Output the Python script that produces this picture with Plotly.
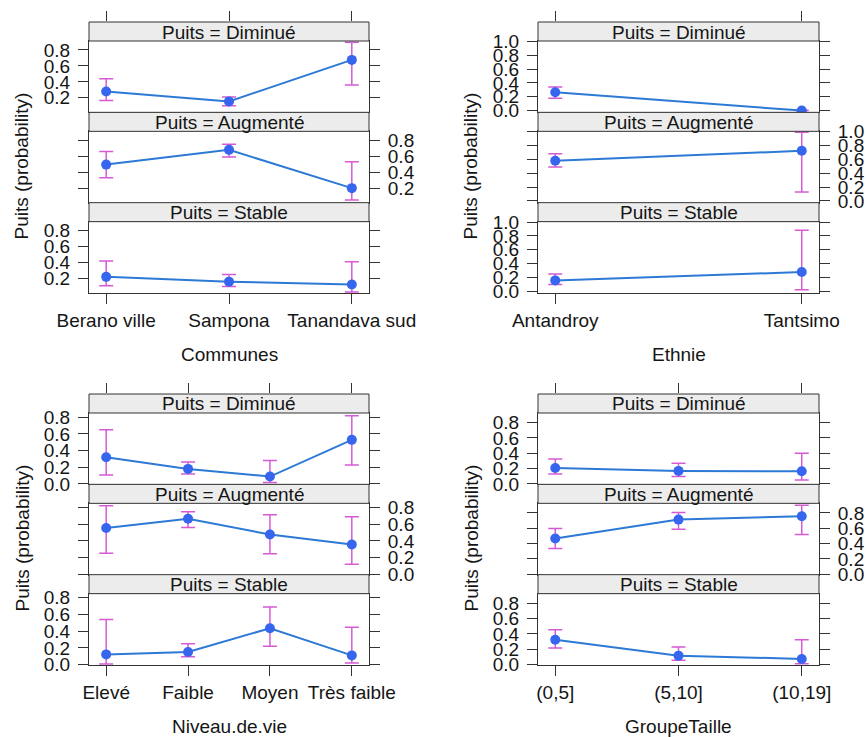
import plotly.graph_objects as go

# ---------------- data ----------------
levels = ["Diminué", "Augmenté", "Stable"]

communes = ["Berano ville", "Sampona", "Tanandava sud"]
com_dim = [0.28, 0.155, 0.675]
com_dim_lo = [0.165, 0.10, 0.36]
com_dim_hi = [0.44, 0.21, 0.895]
com_aug = [0.495, 0.68, 0.20]
com_aug_lo = [0.33, 0.59, 0.05]
com_aug_hi = [0.66, 0.75, 0.53]
com_sta = [0.22, 0.16, 0.125]
com_sta_lo = [0.11, 0.10, 0.03]
com_sta_hi = [0.42, 0.25, 0.41]

ethnie = ["Antandroy", "Tantsimo"]
eth_dim = [0.264, 0.0]
eth_dim_lo = [0.18, 0.0]
eth_dim_hi = [0.34, 0.006]
eth_aug = [0.58, 0.724]
eth_aug_lo = [0.49, 0.13]
eth_aug_hi = [0.68, 0.99]
eth_sta = [0.157, 0.277]
eth_sta_lo = [0.096, 0.02]
eth_sta_hi = [0.25, 0.88]

niveau = ["Elevé", "Faible", "Moyen", "Très faible"]
niv_dim = [0.32, 0.18, 0.088, 0.528]
niv_dim_lo = [0.108, 0.12, 0.016, 0.228]
niv_dim_hi = [0.648, 0.264, 0.28, 0.816]
niv_aug = [0.555, 0.665, 0.476, 0.357]
niv_aug_lo = [0.253, 0.56, 0.246, 0.12]
niv_aug_hi = [0.82, 0.75, 0.713, 0.69]
niv_sta = [0.122, 0.15, 0.435, 0.11]
niv_sta_lo = [0.008, 0.094, 0.22, 0.02]
niv_sta_hi = [0.54, 0.25, 0.69, 0.447]

groupe = ["(0,5]", "(5,10]", "(10,19]"]
grp_dim = [0.207, 0.17, 0.165]
grp_dim_lo = [0.13, 0.096, 0.05]
grp_dim_hi = [0.325, 0.27, 0.40]
grp_aug = [0.466, 0.713, 0.757]
grp_aug_lo = [0.335, 0.587, 0.52]
grp_aug_hi = [0.596, 0.805, 0.90]
grp_sta = [0.325, 0.117, 0.074]
grp_sta_lo = [0.216, 0.056, 0.01]
grp_sta_hi = [0.455, 0.23, 0.325]

y_ticks = [0.0, 0.2, 0.4, 0.6, 0.8, 1.0]

# ---------------- layout / style ----------------
W, H = 866, 737
FONT = "Liberation Sans, Arial, sans-serif"
TXT = "#151515"
FRAME = "#333333"
LINE_C = "#2c7ad6"
MARK_C = "#3766ee"
CI_C = "#d65ad6"
STRIP_FILL = "#ececec"
STRIP_H = 19
PANEL_H = 71.33

groups = [
    dict(cats=communes, fits=[com_dim, com_aug, com_sta],
         los=[com_dim_lo, com_aug_lo, com_sta_lo], his=[com_dim_hi, com_aug_hi, com_sta_hi],
         xtitle="Communes", left=89, right=369, top=22, yrange=[0.018, 0.912]),
    dict(cats=ethnie, fits=[eth_dim, eth_aug, eth_sta],
         los=[eth_dim_lo, eth_aug_lo, eth_sta_lo], his=[eth_dim_hi, eth_aug_hi, eth_sta_hi],
         xtitle="Ethnie", left=538, right=819, top=22, yrange=[-0.025, 1.005]),
    dict(cats=niveau, fits=[niv_dim, niv_aug, niv_sta],
         los=[niv_dim_lo, niv_aug_lo, niv_sta_lo], his=[niv_dim_hi, niv_aug_hi, niv_sta_hi],
         xtitle="Niveau.de.vie", left=89, right=369, top=394, yrange=[-0.005, 0.85]),
    dict(cats=groupe, fits=[grp_dim, grp_aug, grp_sta],
         los=[grp_dim_lo, grp_aug_lo, grp_sta_lo], his=[grp_dim_hi, grp_aug_hi, grp_sta_hi],
         xtitle="GroupeTaille", left=538, right=819, top=394, yrange=[-0.005, 0.925]),
]

fig = go.Figure()
layout = {}
shapes = []
annotations = []
tick_font = dict(family=FONT, size=19, color=TXT)

k = 0
for gi, g in enumerate(groups):
    cats = g["cats"]
    n = len(cats)
    pad = 0.07 * (n - 1)
    xr = [-pad, n - 1 + pad]
    xd = [g["left"] / W, g["right"] / W]
    for j, lev in enumerate(levels):
        k += 1
        s_top = g["top"] + j * (STRIP_H + PANEL_H)
        p_top = s_top + STRIP_H
        p_bot = p_top + PANEL_H
        fit, lo, hi = g["fits"][j], g["los"][j], g["his"][j]
        fig.add_trace(go.Scatter(
            x=cats, y=fit, mode="lines+markers",
            line=dict(color=LINE_C, width=2),
            marker=dict(color=MARK_C, size=10),
            error_y=dict(type="data", symmetric=False,
                         array=[h - f for h, f in zip(hi, fit)],
                         arrayminus=[f - l for f, l in zip(fit, lo)],
                         color=CI_C, thickness=1.5, width=7),
            xaxis=f"x{k}", yaxis=f"y{k}", showlegend=False, hoverinfo="skip"))
        bottom = (j == 2)
        layout[f"xaxis{k}"] = dict(
            domain=xd, anchor=f"y{k}", type="category", categoryarray=cats,
            range=xr, showline=True, mirror=True, linecolor=FRAME, linewidth=1,
            ticks="outside" if bottom else "", ticklen=10, tickcolor=FRAME,
            showticklabels=bottom, tickfont=tick_font, ticklabelstandoff=0,
            showgrid=False, zeroline=False, fixedrange=True, automargin=False)
        layout[f"yaxis{k}"] = dict(
            domain=[1 - p_bot / H, 1 - p_top / H], anchor=f"x{k}",
            range=g["yrange"], tickmode="array", tickvals=y_ticks, tickformat=".1f",
            ticks="outside", ticklen=10, tickcolor=FRAME, mirror="ticks",
            side="right" if j == 1 else "left",
            showline=True, linecolor=FRAME, linewidth=1,
            tickfont=tick_font, ticklabelstandoff=4,
            showgrid=False, zeroline=False, fixedrange=True, automargin=False)
        shapes.append(dict(type="rect", xref="paper", yref="paper",
                           x0=xd[0], x1=xd[1], y0=1 - p_top / H, y1=1 - s_top / H,
                           fillcolor=STRIP_FILL, line=dict(color=FRAME, width=1),
                           layer="above"))
        annotations.append(dict(text=f"Puits = {lev}", xref="paper", yref="paper",
                                x=(xd[0] + xd[1]) / 2, y=1 - (s_top + STRIP_H / 2 + 0.5) / H,
                                showarrow=False, xanchor="center", yanchor="middle",
                                font=dict(family=FONT, size=19, color=TXT)))
    # invisible subplot over the first strip: carries the top tick marks
    tk = 12 + gi + 1
    fig.add_trace(go.Scatter(x=[None], y=[None], xaxis=f"x{tk}", yaxis=f"y{tk}",
                             showlegend=False, hoverinfo="skip"))
    layout[f"xaxis{tk}"] = dict(
        domain=xd, anchor=f"y{tk}", side="top", type="linear", range=xr,
        tickmode="array", tickvals=list(range(n)), ticks="outside", ticklen=10,
        tickcolor=FRAME, showticklabels=False, showline=False, showgrid=False,
        zeroline=False, fixedrange=True, automargin=False)
    layout[f"yaxis{tk}"] = dict(
        domain=[1 - (g["top"] + STRIP_H) / H, 1 - g["top"] / H], anchor=f"x{tk}",
        range=[0, 1], visible=False, showgrid=False, zeroline=False,
        fixedrange=True, automargin=False)
    total = 3 * (STRIP_H + PANEL_H)
    annotations.append(dict(text=g["xtitle"], xref="paper", yref="paper",
                            x=(xd[0] + xd[1]) / 2, y=1 - (g["top"] + total + 62) / H,
                            showarrow=False, xanchor="center", yanchor="middle",
                            font=dict(family=FONT, size=19, color=TXT)))
    annotations.append(dict(text="Puits (probability)", xref="paper", yref="paper",
                            x=(g["left"] - 67.5) / W, y=1 - (g["top"] + 144) / H,
                            textangle=-90, showarrow=False,
                            xanchor="center", yanchor="middle",
                            font=dict(family=FONT, size=19, color=TXT)))

fig.update_layout(**layout)
fig.update_layout(template="none", width=W, height=H, autosize=False,
                  margin=dict(l=0, r=0, t=0, b=0),
                  paper_bgcolor="white", plot_bgcolor="rgba(0,0,0,0)",
                  shapes=shapes, annotations=annotations,
                  font=dict(family=FONT, color=TXT))
fig.write_html("out.html")
